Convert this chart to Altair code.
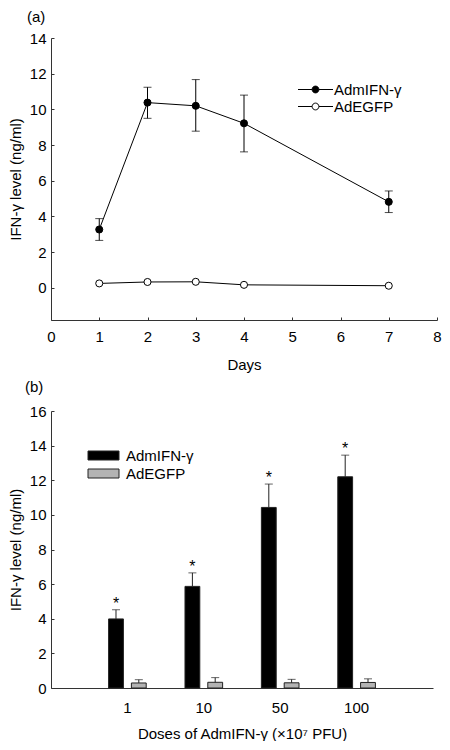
import altair as alt
import pandas as pd

# ---------------- data: panel (a) ----------------
days = [1, 2, 3, 4, 7]
series = ["AdmIFN-γ", "AdEGFP"]
adm_a_mean = [3.27, 10.38, 10.20, 9.22, 4.82]
adm_a_lo = [2.66, 9.50, 8.78, 7.62, 4.22]
adm_a_hi = [3.88, 11.24, 11.67, 10.80, 5.43]
egfp_a_mean = [0.25, 0.33, 0.34, 0.17, 0.12]

# ---------------- data: panel (b) ----------------
doses = ["1", "10", "50", "100"]
adm_b_mean = [3.99, 5.87, 10.43, 12.20]
adm_b_hi = [4.52, 6.65, 11.78, 13.45]
egfp_b_mean = [0.29, 0.33, 0.30, 0.32]
egfp_b_hi = [0.48, 0.60, 0.50, 0.53]
adm_b_sig = ["*", "*", "*", "*"]
egfp_b_sig = ["", "", "", ""]

y_ticks_a = list(range(0, 15, 2))
x_ticks_a = list(range(0, 9))
y_ticks_b = list(range(0, 17, 2))

df_a = pd.DataFrame({
    "day": days + days,
    "series": [series[0]] * len(days) + [series[1]] * len(days),
    "value": adm_a_mean + egfp_a_mean,
})
df_a_err = pd.DataFrame({"day": days, "lo": adm_a_lo, "hi": adm_a_hi})

df_b = pd.DataFrame({
    "dose": doses + doses,
    "series": [series[0]] * len(doses) + [series[1]] * len(doses),
    "value": adm_b_mean + egfp_b_mean,
    "hi": adm_b_hi + egfp_b_hi,
    "sig": adm_b_sig + egfp_b_sig,
})

FONT = "Liberation Sans"
AX = "#333333"

# legend glyphs (unit scale: sqrt(size)/2 = 5 px)
LINE_DOT = ("M-3.5,0H-0.68M0.68,0H3.5"
            "M0.68,0A0.68 0.68 0 1 1 -0.68,0A0.68 0.68 0 1 1 0.68,0Z")
WIDE_BOX = "M-3.1,-0.9H3.1V0.9H-3.1Z"

# ---------------- panel (a) ----------------
xs_a = alt.Scale(domain=[0, 8], nice=False, zero=False)
ys_a = alt.Scale(domain=[-1.8, 14], nice=False, zero=False)

x_main_a = alt.Axis(values=x_ticks_a, ticks=False, labelPadding=9, labelFlush=False,
                    title="Days", titlePadding=13, grid=False)
y_main_a = alt.Axis(values=y_ticks_a, ticks=False, labelPadding=5, labelFlush=False,
                    title="IFN-γ level (ng/ml)", titlePadding=6, grid=False)
x_tick_a = alt.Axis(values=x_ticks_a, orient="bottom", offset=-3, domain=False, labels=False,
                    ticks=True, tickSize=3, title=None, grid=False)
y_tick_a = alt.Axis(values=y_ticks_a, orient="left", offset=-3, domain=False, labels=False,
                    ticks=True, tickSize=3, title=None, grid=False)

line_a = alt.Chart(df_a).mark_line(color="black", strokeWidth=1).encode(
    x=alt.X("day:Q", scale=xs_a, axis=x_main_a),
    y=alt.Y("value:Q", scale=ys_a, axis=y_main_a),
    detail="series:N",
)
err_a = alt.Chart(df_a_err).mark_rule(color="black", strokeWidth=1).encode(
    x=alt.X("day:Q", scale=xs_a, axis=x_tick_a),
    y=alt.Y("lo:Q", scale=ys_a, axis=y_tick_a),
    y2="hi:Q",
)
cap_lo_a = alt.Chart(df_a_err).mark_tick(orient="horizontal", size=8, thickness=1, color="black").encode(
    x=alt.X("day:Q", scale=xs_a, axis=None),
    y=alt.Y("lo:Q", scale=ys_a, axis=None),
)
cap_hi_a = alt.Chart(df_a_err).mark_tick(orient="horizontal", size=8, thickness=1, color="black").encode(
    x=alt.X("day:Q", scale=xs_a, axis=None),
    y=alt.Y("hi:Q", scale=ys_a, axis=None),
)
pts_a = alt.Chart(df_a).mark_circle(size=50, stroke="black", strokeWidth=1, opacity=1).encode(
    x=alt.X("day:Q", scale=xs_a, axis=None),
    y=alt.Y("value:Q", scale=ys_a, axis=None),
    fill=alt.Fill("series:N", scale=alt.Scale(domain=series, range=["black", "white"]),
                  sort=series,
                  legend=alt.Legend(
                      title=None, orient="none", legendX=257, legendY=44,
                      symbolType=LINE_DOT, symbolSize=100,
                      symbolStrokeColor="black", symbolStrokeWidth=1,
                      labelFontSize=15, labelFont=FONT, labelOffset=11, rowPadding=1, padding=0,
                  )),
)

chart_a = alt.layer(line_a, err_a, cap_lo_a, cap_hi_a, pts_a).resolve_axis(
    x="independent", y="independent"
).properties(
    width=386, height=282,
    title=alt.TitleParams("(a)", anchor="start", frame="group", dx=-24, offset=6,
                          fontSize=15, fontWeight="normal", font=FONT),
)

# ---------------- panel (b) ----------------
xs_b = alt.Scale(domain=doses, paddingInner=0, paddingOuter=0.5)
xo_b = alt.Scale(domain=series, paddingInner=0.35, paddingOuter=0.85)
ys_b = alt.Scale(domain=[0, 16], nice=False)

x_main_b = alt.Axis(ticks=False, labelAngle=0, labelPadding=12,
                    title="Doses of AdmIFN-γ  (×10⁷ PFU)", titlePadding=11, grid=False)
y_main_b = alt.Axis(values=y_ticks_b, ticks=False, labelPadding=5, labelFlush=False,
                    title="IFN-γ level (ng/ml)", titlePadding=6, grid=False)
y_tick_b = alt.Axis(values=y_ticks_b, orient="left", offset=-3, domain=False, labels=False,
                    ticks=True, tickSize=3, title=None, grid=False)

xenc = alt.X("dose:N", sort=doses, scale=xs_b, axis=x_main_b)
xenc_n = alt.X("dose:N", sort=doses, scale=xs_b, axis=None)
xoff = alt.XOffset("series:N", sort=series, scale=xo_b)

bars_b = alt.Chart(df_b).mark_bar(stroke="#222222", strokeWidth=1).encode(
    x=xenc,
    xOffset=xoff,
    y=alt.Y("value:Q", scale=ys_b, axis=y_main_b),
    fill=alt.Fill("series:N", scale=alt.Scale(domain=series, range=["black", "#b3b3b3"]),
                  sort=series,
                  legend=alt.Legend(
                      title=None, orient="none", legendX=45, legendY=37,
                      symbolType=WIDE_BOX, symbolSize=100,
                      symbolStrokeColor="#222222", symbolStrokeWidth=1,
                      labelFontSize=15, labelFont=FONT, labelOffset=15, rowPadding=2, padding=0,
                  )),
)
err_b = alt.Chart(df_b).mark_rule(color="#222222", strokeWidth=1).encode(
    x=xenc_n, xOffset=xoff,
    y=alt.Y("value:Q", scale=ys_b, axis=y_tick_b),
    y2="hi:Q",
)
cap_b = alt.Chart(df_b).mark_tick(orient="horizontal", size=8, thickness=1, color="#222222").encode(
    x=xenc_n, xOffset=xoff,
    y=alt.Y("hi:Q", scale=ys_b, axis=None),
)
star_b = alt.Chart(df_b).mark_text(fontSize=16, font=FONT, baseline="alphabetic", dy=-1).encode(
    x=xenc_n, xOffset=xoff,
    y=alt.Y("hi:Q", scale=ys_b, axis=None),
    text="sig:N",
)

chart_b = alt.layer(bars_b, err_b, cap_b, star_b).resolve_axis(
    x="independent", y="independent"
).properties(
    width=382, height=277,
    title=alt.TitleParams("(b)", anchor="start", frame="group", dx=-26, offset=9,
                          fontSize=15, fontWeight="normal", font=FONT),
)

chart = alt.vconcat(chart_a, chart_b, spacing=8).resolve_scale(
    fill="independent"
).resolve_legend(fill="independent").properties(
    padding={"left": 0, "top": 2, "right": 0, "bottom": 0}
).configure(
    font=FONT,
).configure_axis(
    labelFont=FONT, titleFont=FONT, labelFontSize=15, titleFontSize=15,
    titleFontWeight="normal", labelColor="black", titleColor="black",
    domainColor=AX, tickColor=AX, domainWidth=1, tickWidth=1,
).configure_view(stroke=None)

chart.save("out.html", embed_options={"renderer": "svg", "actions": False})
